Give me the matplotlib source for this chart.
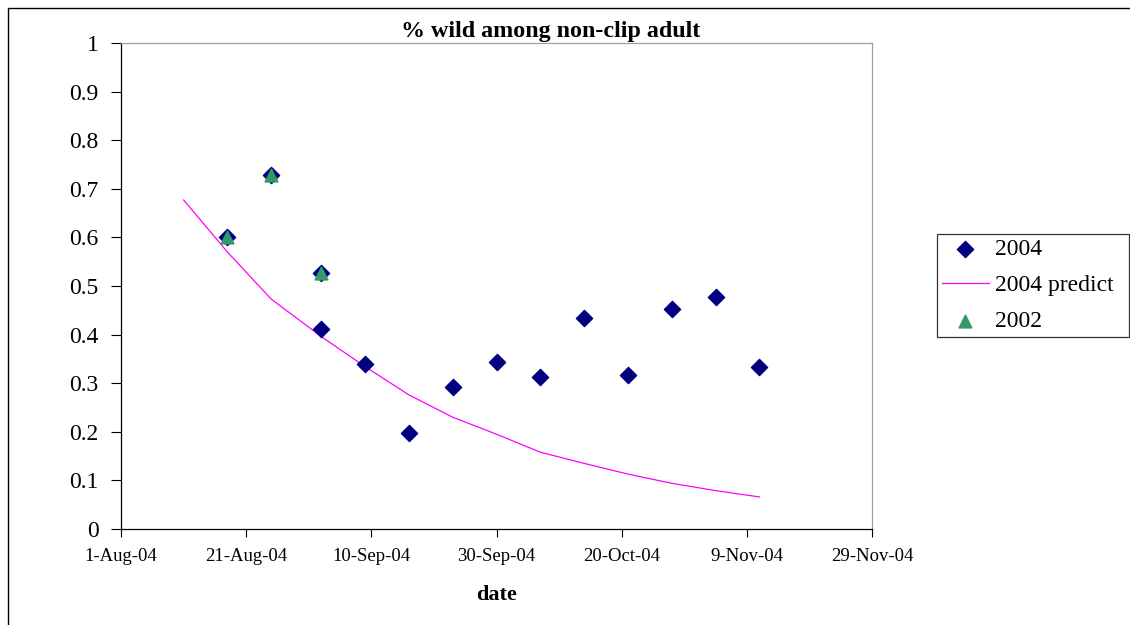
import datetime as dt
import matplotlib
matplotlib.use("Agg")
import matplotlib.pyplot as plt
from matplotlib.patches import Rectangle

plt.rcParams['font.family'] = ['Liberation Serif', 'DejaVu Serif']

# sampling dates (2004)
dates_2004 = ["2004-08-18", "2004-08-25", "2004-09-02", "2004-09-02", "2004-09-09",
              "2004-09-16", "2004-09-23", "2004-09-30", "2004-10-07", "2004-10-14",
              "2004-10-21", "2004-10-28", "2004-11-04", "2004-11-11"]
wild_2004 = [0.600, 0.728, 0.527, 0.411, 0.339, 0.197, 0.293, 0.344, 0.312,
             0.435, 0.317, 0.453, 0.478, 0.333]

dates_predict = ["2004-08-11", "2004-08-18", "2004-08-25", "2004-09-02", "2004-09-09",
                 "2004-09-16", "2004-09-23", "2004-09-30", "2004-10-07", "2004-10-14",
                 "2004-10-21", "2004-10-28", "2004-11-04", "2004-11-11"]
wild_predict = [0.677, 0.570, 0.473, 0.396, 0.334, 0.276, 0.230, 0.195, 0.158,
                0.135, 0.113, 0.094, 0.079, 0.066]

dates_2002 = ["2004-08-18", "2004-08-25", "2004-09-02"]
wild_2002 = [0.600, 0.728, 0.527]

tick_dates = ["2004-08-01", "2004-08-21", "2004-09-10", "2004-09-30",
              "2004-10-20", "2004-11-09", "2004-11-29"]
tick_labels = ["1-Aug-04", "21-Aug-04", "10-Sep-04", "30-Sep-04",
               "20-Oct-04", "9-Nov-04", "29-Nov-04"]


def to_dt(lst):
    return [dt.datetime.strptime(s, "%Y-%m-%d") for s in lst]


fig = plt.figure(figsize=(11.3, 6.25), dpi=100)
ax = fig.add_axes([0.1071, 0.1536, 0.6646, 0.7776])

# outer chart frame (right/bottom edges run off the page)
fig.patches.append(Rectangle((8 / 1130, -0.2), 2.0, 1.2 - 8 / 625, transform=fig.transFigure,
                             fill=False, edgecolor='black', linewidth=1.0))

ax.scatter(to_dt(dates_2004), wild_2004, marker='D', s=68, color='#000080',
           label='2004', zorder=3)
ax.plot(to_dt(dates_predict), wild_predict, color='#FF00FF', linewidth=0.9,
        label='2004 predict', zorder=2)
ax.scatter(to_dt(dates_2002), wild_2002, marker='^', s=85, color='#339966',
           label='2002', zorder=4)

ax.set_xlim(to_dt(tick_dates)[0], to_dt(tick_dates)[-1])
ax.set_ylim(0, 1)
ax.set_xticks(to_dt(tick_dates))
ax.set_xticklabels(tick_labels, fontsize=13.5)
ax.set_yticks([i / 10 for i in range(11)])
ax.set_yticklabels(["0", "0.1", "0.2", "0.3", "0.4", "0.5", "0.6", "0.7", "0.8", "0.9", "1"],
                   fontsize=17)
ax.tick_params(axis='x', direction='out', length=6, width=0.8, pad=8)
ax.tick_params(axis='y', direction='out', length=7, width=0.8, pad=9)

for side in ['top', 'right']:
    ax.spines[side].set_color('#a0a0a0')
    ax.spines[side].set_linewidth(0.9)
for side in ['left', 'bottom']:
    ax.spines[side].set_color('black')
    ax.spines[side].set_linewidth(0.9)

# title is centred on the whole chart area, not on the plot box
fig.text(551 / 1130, 1 - 31 / 625, '% wild among non-clip adult', fontsize=17.3,
         fontweight='bold', ha='center', va='center')
ax.set_xlabel('date', fontsize=16, fontweight='bold', labelpad=14)

leg = ax.legend(loc='center left', bbox_to_anchor=(937 / 1130, 1 - 337 / 625, 192 / 1130, 103 / 625),
                bbox_transform=fig.transFigure, mode='expand', fontsize=17,
                frameon=True, fancybox=False, edgecolor='black', handlelength=2.0,
                borderaxespad=0, labelspacing=0.62, handletextpad=0.25,
                borderpad=0.2, scatterpoints=1)
leg.get_frame().set_linewidth(0.9)

fig.savefig("out.png", dpi=100)
